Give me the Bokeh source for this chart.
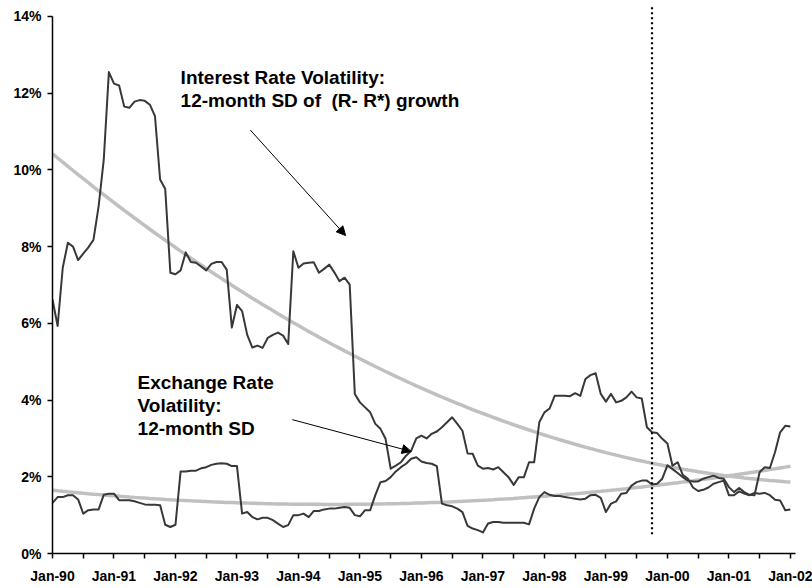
from bokeh.plotting import figure
from bokeh.models import FixedTicker, PrintfTickFormatter, Range1d, Arrow, NormalHead, Label
from bokeh.embed import file_html
from bokeh.resources import INLINE
import numpy as np

# ---- data (monthly, Jan-1990 .. Jan-2002) ----
months = list(range(145))
tick_labels = ["Jan-90", "Jan-91", "Jan-92", "Jan-93", "Jan-94", "Jan-95", "Jan-96",
               "Jan-97", "Jan-98", "Jan-99", "Jan-00", "Jan-01", "Jan-02"]

interest_vol = [
    6.62, 5.93, 7.45, 8.10, 8.00, 7.65, 7.82, 7.98, 8.18, 9.05, 10.26, 12.55,
    12.25, 12.20, 11.65, 11.62, 11.78, 11.82, 11.80, 11.70, 11.40, 9.75, 9.50, 7.32,
    7.28, 7.38, 7.85, 7.60, 7.58, 7.48, 7.38, 7.55, 7.60, 7.60, 7.40, 5.89,
    6.48, 6.32, 5.70, 5.37, 5.42, 5.36, 5.62, 5.70, 5.76, 5.68, 5.46, 7.88,
    7.45, 7.56, 7.58, 7.59, 7.32, 7.42, 7.53, 7.33, 7.10, 7.19, 7.01, 4.16,
    3.94, 3.81, 3.68, 3.38, 3.25, 2.99, 2.21, 2.29, 2.38, 2.55, 2.68, 3.00,
    3.07, 3.00, 3.12, 3.18, 3.29, 3.42, 3.55, 3.38, 3.20, 2.61, 2.60, 2.29,
    2.21, 2.23, 2.19, 2.25, 2.12, 1.99, 1.79, 1.99, 1.99, 2.38, 2.38, 3.42,
    3.68, 3.78, 4.11, 4.11, 4.11, 4.10, 4.18, 4.11, 4.55, 4.65, 4.70, 4.16,
    3.96, 4.16, 3.94, 3.98, 4.07, 4.22, 4.07, 4.04, 3.29, 3.16, 3.14, 2.99,
    2.87, 2.29, 2.38, 2.05, 1.95, 1.72, 1.63, 1.66, 1.72, 1.82, 1.86, 1.90,
    1.52, 1.52, 1.62, 1.56, 1.52, 1.58, 1.56, 1.58, 1.52, 1.40, 1.38, 1.13,
    1.15,
]

exchange_vol = [
    1.32, 1.47, 1.47, 1.52, 1.52, 1.41, 1.04, 1.13, 1.15, 1.15, 1.53, 1.56,
    1.56, 1.39, 1.39, 1.39, 1.36, 1.32, 1.28, 1.27, 1.27, 1.26, 0.75, 0.69,
    0.75, 2.14, 2.14, 2.16, 2.16, 2.22, 2.25, 2.31, 2.34, 2.35, 2.34, 2.28,
    2.28, 1.04, 1.08, 0.95, 0.89, 0.93, 0.93, 0.87, 0.78, 0.69, 0.74, 1.00,
    1.00, 1.04, 0.95, 1.11, 1.11, 1.15, 1.17, 1.17, 1.19, 1.21, 1.19, 1.00,
    0.97, 1.13, 1.13, 1.52, 1.86, 1.89, 1.99, 2.14, 2.25, 2.34, 2.47, 2.51,
    2.40, 2.36, 2.34, 2.28, 1.30, 1.26, 1.23, 1.17, 1.08, 0.72, 0.65, 0.61,
    0.55, 0.78, 0.82, 0.82, 0.80, 0.80, 0.80, 0.80, 0.80, 0.76, 1.17, 1.47,
    1.60, 1.53, 1.50, 1.50, 1.47, 1.45, 1.43, 1.41, 1.43, 1.52, 1.53, 1.45,
    1.08, 1.30, 1.36, 1.56, 1.58, 1.77, 1.86, 1.90, 1.90, 1.80, 1.82, 1.95,
    2.30, 2.20, 2.10, 1.99, 1.90, 1.88, 1.88, 1.95, 1.99, 2.03, 1.97, 1.95,
    1.73, 1.60, 1.71, 1.60, 1.53, 1.52, 2.12, 2.25, 2.23, 2.64, 3.16, 3.33,
    3.31,
]

event_month = 117          # vertical dotted marker (Oct-99)
y_ticks = [0, 2, 4, 6, 8, 10, 12, 14]

# 2nd-order polynomial trendlines (as in the spreadsheet chart)
m = np.array(months, dtype=float)
ir_trend = np.polyval(np.polyfit(m, interest_vol, 2), m)
er_trend = np.polyval(np.polyfit(m, exchange_vol, 2), m)

FONT = "Liberation Sans"
Y_TOP = 14.26

p = figure(width=812, height=586, output_backend="svg", toolbar_location=None,
           x_range=Range1d(0, 145), y_range=Range1d(0, Y_TOP),
           min_border_left=52, min_border_right=17, min_border_top=6, min_border_bottom=31)
p.outline_line_color = None
p.background_fill_color = "white"
p.xgrid.visible = False
p.ygrid.visible = False

# trendlines
p.line(months, list(ir_trend), line_color="#c0c0c0", line_width=3.5)
p.line(months, list(er_trend), line_color="#c0c0c0", line_width=3.5)

# series
p.line(months, interest_vol, line_color="#383838", line_width=2, line_join="round")
p.line(months, exchange_vol, line_color="#383838", line_width=2, line_join="round")

# dotted vertical marker
p.segment(x0=[event_month], y0=[0.5], x1=[event_month], y1=[Y_TOP],
          line_color="black", line_width=2.2, line_dash="2 3")

# annotations
def add_text(x, y, txt):
    p.add_layout(Label(x=x, y=y, text=txt, text_font=FONT, text_font_style="bold",
                       text_font_size="19px", text_color="black",
                       text_baseline="alphabetic", text_align="left"))

add_text(25.0, 12.42, "Interest Rate Volatility:")
add_text(25.0, 11.82, "12-month SD of \u00a0(R- R*) growth")
add_text(16.6, 4.46, "Exchange Rate")
add_text(16.6, 3.87, "Volatility:")
add_text(16.6, 3.25, "12-month SD")

p.add_layout(Arrow(end=NormalHead(size=9, fill_color="black", line_color="black", line_width=1),
                   x_start=38.6, y_start=11.04, x_end=57.2, y_end=8.29,
                   line_color="black", line_width=1))
p.add_layout(Arrow(end=NormalHead(size=9, fill_color="black", line_color="black", line_width=1),
                   x_start=46.8, y_start=3.49, x_end=70.0, y_end=2.66,
                   line_color="black", line_width=1))

# axes
xticks = list(range(0, 145, 6))
p.xaxis.ticker = FixedTicker(ticks=xticks)
overrides = {}
for t in xticks:
    overrides[t] = tick_labels[t // 12] if t % 12 == 0 else ""
p.xaxis.major_label_overrides = overrides
p.yaxis.ticker = FixedTicker(ticks=y_ticks)
p.yaxis.formatter = PrintfTickFormatter(format="%d%%")
p.yaxis.bounds = (0, 14)

for ax in (p.xaxis, p.yaxis):
    ax.axis_line_color = "black"
    ax.axis_line_width = 1.5
    ax.major_tick_line_color = "black"
    ax.major_tick_line_width = 1.5
    ax.major_tick_in = 0
    ax.major_tick_out = 5
    ax.minor_tick_line_color = None
    ax.major_label_text_font = FONT
    ax.major_label_text_font_style = "bold"
    ax.major_label_text_font_size = "14px"
    ax.major_label_text_color = "black"
p.xaxis.major_label_standoff = 9
p.yaxis.major_label_standoff = 6

open("out.html", "w").write(file_html(p, INLINE))
